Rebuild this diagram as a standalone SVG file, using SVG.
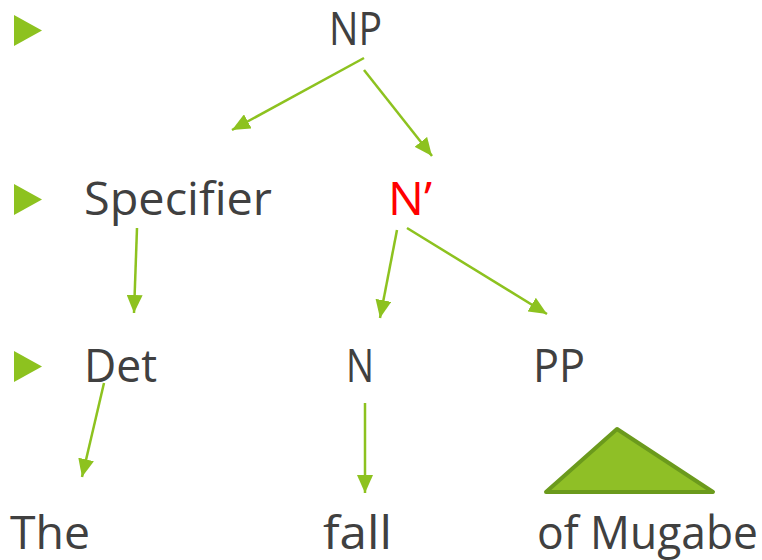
<svg xmlns="http://www.w3.org/2000/svg" width="762" height="560" viewBox="0 0 762 560">
<defs>
<style>
.t{font-family:"Open Sans","Noto Sans",sans-serif;font-size:46px;fill:#404040}
.r{fill:#ff0000}
.c{stroke:#8dc21f;stroke-width:2.5;fill:none;marker-end:url(#ah)}
.b{fill:#8dc21f}
</style>
<marker id="ah" markerUnits="userSpaceOnUse" markerWidth="20" markerHeight="16" viewBox="0 0 20 16" refX="18" refY="8" orient="auto">
<path d="M0,0 L18,8 L0,16 Z" fill="#8dc21f"/>
</marker>
</defs>
<g id="bullets">
<path class="b" d="M14,15 L42,30.5 L14,46 Z"/>
<path class="b" d="M14,184 L42,199.5 L14,215 Z"/>
<path class="b" d="M14,351 L42,366.5 L14,382 Z"/>
</g>
<g id="connectors">
<line class="c" x1="364" y1="58" x2="232" y2="130"/>
<line class="c" x1="364" y1="70" x2="432" y2="156"/>
<line class="c" x1="137" y1="228" x2="134" y2="313"/>
<line class="c" x1="397" y1="230" x2="380" y2="318"/>
<line class="c" x1="407" y1="228" x2="547" y2="314"/>
<line class="c" x1="104" y1="383" x2="82" y2="477"/>
<line class="c" x1="365" y1="403" x2="365" y2="493"/>
</g>
<g id="NP"><text class="t" x="329" y="45" textLength="53" lengthAdjust="spacingAndGlyphs">NP</text></g>
<g id="Specifier"><text class="t" x="84" y="215" textLength="188" lengthAdjust="spacingAndGlyphs">Specifier</text></g>
<g id="Nbar"><text class="t r" x="388" y="215" textLength="44" lengthAdjust="spacingAndGlyphs">N’</text></g>
<g id="Det"><text class="t" x="84" y="382" textLength="73" lengthAdjust="spacingAndGlyphs">Det</text></g>
<g id="N"><text class="t" x="346" y="382" textLength="28" lengthAdjust="spacingAndGlyphs">N</text></g>
<g id="PP"><text class="t" x="533" y="382" textLength="52" lengthAdjust="spacingAndGlyphs">PP</text></g>
<g id="triangle"><path d="M546,492 L617,429 L713,492 Z" fill="#8fbf26" stroke="#6b9a1c" stroke-width="4" stroke-linejoin="round"/></g>
<g id="The"><text class="t" x="10" y="549" textLength="80" lengthAdjust="spacingAndGlyphs">The</text></g>
<g id="fall"><text class="t" x="323" y="549" textLength="69" lengthAdjust="spacingAndGlyphs">fall</text></g>
<g id="ofMugabe"><text class="t" x="537" y="549" textLength="221" lengthAdjust="spacingAndGlyphs">of Mugabe</text></g>
</svg>
